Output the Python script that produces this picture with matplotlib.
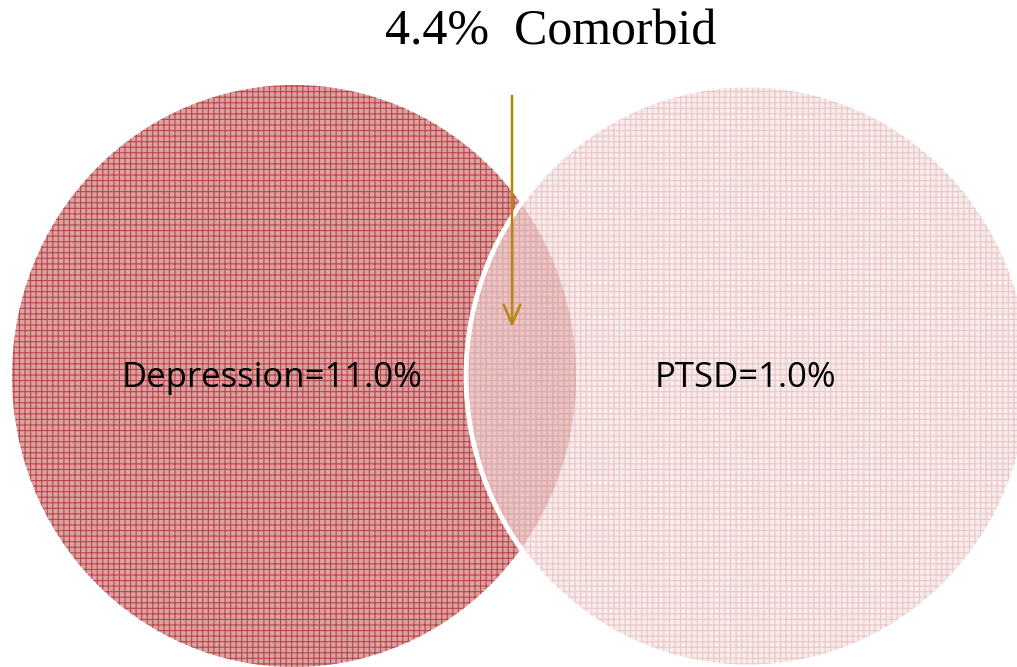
import matplotlib.pyplot as plt
from matplotlib.patches import Ellipse

# sets and their labels
set_labels = ["Depression=11.0%", "PTSD=1.0%"]
overlap_label = "4.4%  Comorbid"

# circle centres and size, in pixel units of the picture
centers = [(294, 376), (748, 376)]
width, height = 564, 582

face_colors = ["#dca2a2", "#f3dede"]
hatch_colors = ["#b8474b", "#e2b0b0"]

plt.rcParams['hatch.linewidth'] = 0.8

fig = plt.figure(figsize=(10.17, 6.67), dpi=100)
ax = fig.add_axes([0, 0, 1, 1])
ax.set_xlim(0, 1017)
ax.set_ylim(667, 0)
ax.axis('off')

# left circle: solid face then grid hatch
ax.add_patch(Ellipse(centers[0], width, height, facecolor=face_colors[0], edgecolor='none', zorder=1))
ax.add_patch(Ellipse(centers[0], width, height, facecolor='none', edgecolor=hatch_colors[0],
                     hatch='+++', linewidth=0, zorder=2))

# right circle, semi-transparent, with white outline
ax.add_patch(Ellipse(centers[1], width, height, facecolor=face_colors[1], edgecolor='none',
                     alpha=0.6, zorder=3))
ax.add_patch(Ellipse(centers[1], width, height, facecolor='none', edgecolor=hatch_colors[1],
                     hatch='+++', linewidth=0, alpha=0.6, zorder=4))
ax.add_patch(Ellipse(centers[1], width, height, facecolor='none', edgecolor='white',
                     linewidth=3.5, zorder=5))

# labels
ax.text(272, 378, set_labels[0], fontsize=25, family='Open Sans',
        ha='center', va='center', zorder=6)
ax.text(745, 378, set_labels[1], fontsize=25, family='Open Sans',
        ha='center', va='center', zorder=6)
ax.text(551, 32, overlap_label, fontsize=36, family='Liberation Serif',
        ha='center', va='center', zorder=6)

# arrow pointing into the overlap
ax.annotate('', xy=(512, 330), xytext=(512, 93),
            arrowprops=dict(arrowstyle='->,head_length=1.4,head_width=0.6',
                            color='#b8860b', lw=1.8), zorder=7)

fig.savefig('out.png', dpi=100)
